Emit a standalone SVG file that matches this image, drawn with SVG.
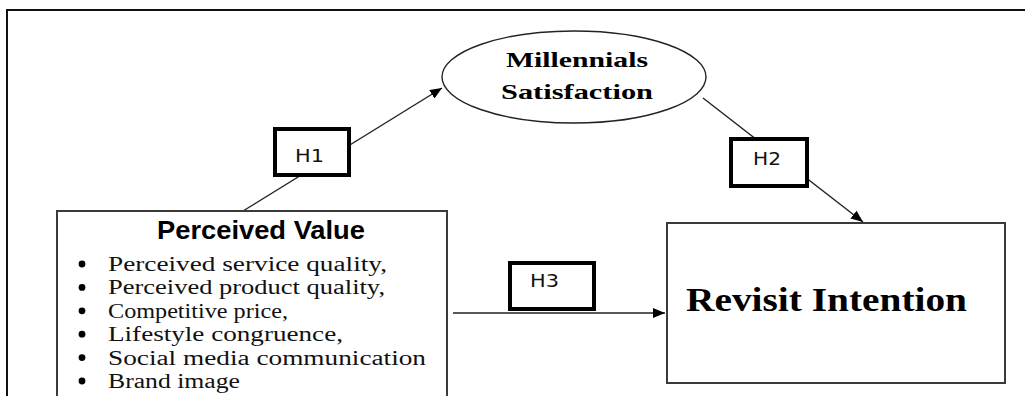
<svg xmlns="http://www.w3.org/2000/svg" width="1025" height="396" viewBox="0 0 1025 396">
<style>
.frame{fill:none;stroke:#111;stroke-width:2}
.box{fill:#fff;stroke:#3a3a3a;stroke-width:2}
.hbox{fill:#fff;stroke:#000;stroke-width:4}
.conn{fill:none;stroke:#222;stroke-width:1.4}
.serifb{font-family:"Liberation Serif","Times New Roman",serif;font-weight:bold;fill:#000}
.serif{font-family:"Liberation Serif","Times New Roman",serif;font-size:20.5px;fill:#111}
.sansb{font-family:"Liberation Sans",Arial,sans-serif;font-weight:bold;fill:#000}
.hlab{font-family:"DejaVu Sans","Liberation Sans",sans-serif;font-size:17px;fill:#111}
</style>
<defs>
<marker id="arr" markerWidth="12" markerHeight="10" refX="12" refY="5" orient="auto" markerUnits="userSpaceOnUse">
<path d="M0,0 L12,5 L0,10 Z" fill="#000"/>
</marker>
</defs>
<rect width="1025" height="396" fill="#fff"/>
<path class="frame" d="M7,396 L7,10 L1025,10"/>
<g id="connectors">
<line class="conn" x1="243" y1="211" x2="442" y2="88" marker-end="url(#arr)"/>
<line class="conn" x1="703" y1="98" x2="863" y2="222" marker-end="url(#arr)"/>
<line class="conn" x1="453" y1="313" x2="665" y2="313" marker-end="url(#arr)"/>
</g>
<g id="node-satisfaction">
<ellipse cx="574" cy="77" rx="132" ry="46" fill="#fff" stroke="#222" stroke-width="1.4"/>
<text class="serifb" x="577" y="67" font-size="21" text-anchor="middle" textLength="142" lengthAdjust="spacingAndGlyphs">Millennials</text>
<text class="serifb" x="577" y="99" font-size="21" text-anchor="middle" textLength="152" lengthAdjust="spacingAndGlyphs">Satisfaction</text>
</g>
<g id="node-h1">
<rect class="hbox" x="275" y="129" width="74" height="46"/>
<text class="hlab" x="295" y="162" textLength="29" lengthAdjust="spacingAndGlyphs">H1</text>
</g>
<g id="node-h2">
<rect class="hbox" x="731" y="139" width="76" height="47"/>
<text class="hlab" x="753" y="165" textLength="28" lengthAdjust="spacingAndGlyphs">H2</text>
</g>
<g id="node-h3">
<rect class="hbox" x="510" y="263" width="84" height="46"/>
<text class="hlab" x="530" y="287" textLength="29" lengthAdjust="spacingAndGlyphs">H3</text>
</g>
<g id="node-perceived-value">
<rect class="box" x="57" y="211" width="390" height="200"/>
<text class="sansb" x="157" y="239" font-size="26" textLength="208" lengthAdjust="spacingAndGlyphs">Perceived Value</text>
<g fill="#000">
<circle cx="82" cy="264" r="3.4"/>
<circle cx="82" cy="287.4" r="3.4"/>
<circle cx="82" cy="310.8" r="3.4"/>
<circle cx="82" cy="334.2" r="3.4"/>
<circle cx="82" cy="357.6" r="3.4"/>
<circle cx="82" cy="381" r="3.4"/>
</g>
<text class="serif" x="108" y="271" textLength="279" lengthAdjust="spacingAndGlyphs">Perceived service quality,</text>
<text class="serif" x="108" y="294.4" textLength="277" lengthAdjust="spacingAndGlyphs">Perceived product quality,</text>
<text class="serif" x="108" y="317.8" textLength="180" lengthAdjust="spacingAndGlyphs">Competitive price,</text>
<text class="serif" x="108" y="341.2" textLength="235" lengthAdjust="spacingAndGlyphs">Lifestyle congruence,</text>
<text class="serif" x="108" y="364.6" textLength="318" lengthAdjust="spacingAndGlyphs">Social media communication</text>
<text class="serif" x="108" y="388" textLength="132" lengthAdjust="spacingAndGlyphs">Brand image</text>
</g>
<g id="node-revisit">
<rect class="box" x="667" y="223" width="338" height="160"/>
<text class="serifb" x="686" y="311" font-size="33" textLength="281" lengthAdjust="spacingAndGlyphs">Revisit Intention</text>
</g>
</svg>
